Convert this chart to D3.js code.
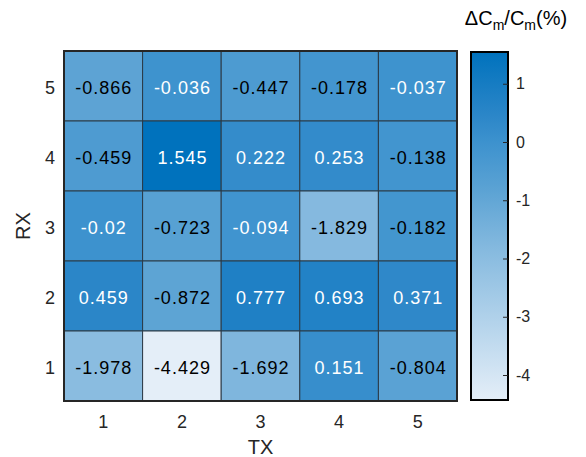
<!DOCTYPE html>
<html>
<head>
<meta charset="utf-8">
<script src="https://cdn.jsdelivr.net/npm/d3@7"></script>
<style>
  body { margin: 0; background: #fff; }
  text { font-family: "Liberation Sans", Arial, sans-serif; }
</style>
</head>
<body>
<div id="chart"></div>
<script>
// data: rows are RX (5 at top .. 1 at bottom), columns are TX 1..5
const txLabels = ['1', '2', '3', '4', '5'];
const rxLabels = ['5', '4', '3', '2', '1'];
const rx5 = [-0.866, -0.036, -0.447, -0.178, -0.037];
const rx4 = [-0.459, 1.545, 0.222, 0.253, -0.138];
const rx3 = [-0.02, -0.723, -0.094, -1.829, -0.182];
const rx2 = [0.459, -0.872, 0.777, 0.693, 0.371];
const rx1 = [-1.978, -4.429, -1.692, 0.151, -0.804];
const cbTicks = [1, 0, -1, -2, -3, -4];

const rows = [rx5, rx4, rx3, rx2, rx1];
const cells = [];
rows.forEach((r, i) => r.forEach((v, j) => cells.push({ rx: rxLabels[i], tx: txLabels[j], v: v })));

const W = 586, H = 457;
const plot = { left: 64, top: 51, right: 457, bottom: 401 };
const cb = { left: 471, right: 508, top: 52, bottom: 400 };

const svg = d3.select('#chart').append('svg')
    .attr('width', W).attr('height', H);

const x = d3.scaleBand().domain(txLabels).range([plot.left, plot.right]);
const y = d3.scaleBand().domain(rxLabels).range([plot.top, plot.bottom]);

const vmin = d3.min(cells, d => d.v), vmax = d3.max(cells, d => d.v);
// blue ramp, light to dark
const stops = ['#e4eef8', '#86badf', '#5ca3d4', '#3d92ce', '#2b86c8', '#0072bd'];
const stopPos = [0, 0.43, 0.6, 0.74, 0.82, 1];
const ramp = d3.scaleLinear().domain(stopPos).range(stops).interpolate(d3.interpolateRgb);
const color = v => ramp((v - vmin) / (vmax - vmin));

// cells
svg.append('g').selectAll('rect')
    .data(cells)
    .join('rect')
    .attr('x', d => x(d.tx))
    .attr('y', d => y(d.rx))
    .attr('width', x.bandwidth())
    .attr('height', y.bandwidth())
    .attr('fill', d => color(d.v))
    .attr('stroke', '#2b3a46')
    .attr('stroke-width', 1);

svg.append('g').selectAll('text')
    .data(cells)
    .join('text')
    .attr('x', d => x(d.tx) + x.bandwidth() / 2 + 0.5)
    .attr('y', d => y(d.rx) + y.bandwidth() / 2 + 8)
    .attr('text-anchor', 'middle')
    .attr('font-size', 18)
    .attr('letter-spacing', 1)
    .attr('fill', d => d.v > -0.12 ? '#fff' : '#000')
    .text(d => d.v);

// outer frame
svg.append('rect')
    .attr('x', plot.left).attr('y', plot.top)
    .attr('width', plot.right - plot.left).attr('height', plot.bottom - plot.top)
    .attr('fill', 'none').attr('stroke', '#262626').attr('stroke-width', 2);

// tick labels
svg.append('g').selectAll('text')
    .data(txLabels)
    .join('text')
    .attr('x', d => x(d) + x.bandwidth() / 2)
    .attr('y', 428)
    .attr('text-anchor', 'middle')
    .attr('font-size', 18)
    .attr('fill', '#262626')
    .text(d => d);

svg.append('g').selectAll('text')
    .data(rxLabels)
    .join('text')
    .attr('x', 55)
    .attr('y', d => y(d) + y.bandwidth() / 2 + 8)
    .attr('text-anchor', 'end')
    .attr('font-size', 18)
    .attr('fill', '#262626')
    .text(d => d);

svg.append('text')
    .attr('x', (plot.left + plot.right) / 2).attr('y', 454)
    .attr('text-anchor', 'middle')
    .attr('font-size', 20)
    .attr('fill', '#262626')
    .text('TX');

svg.append('text')
    .attr('transform', `translate(30, ${(plot.top + plot.bottom) / 2}) rotate(-90)`)
    .attr('text-anchor', 'middle')
    .attr('font-size', 20)
    .attr('fill', '#262626')
    .text('RX');

// colorbar
const defs = svg.append('defs');
const grad = defs.append('linearGradient')
    .attr('id', 'cbgrad')
    .attr('x1', 0).attr('y1', 1).attr('x2', 0).attr('y2', 0);
stopPos.forEach((p, i) => grad.append('stop').attr('offset', p).attr('stop-color', stops[i]));

const cy = d3.scaleLinear().domain([vmin, vmax]).range([cb.bottom, cb.top]);

svg.append('rect')
    .attr('x', cb.left).attr('y', cb.top)
    .attr('width', cb.right - cb.left).attr('height', cb.bottom - cb.top)
    .attr('fill', 'url(#cbgrad)')
    .attr('stroke', '#000').attr('stroke-width', 2);

const cbAxis = d3.axisRight(cy).tickValues(cbTicks).tickSize(-5).tickPadding(8)
    .tickFormat(d => String(d));
const gcb = svg.append('g')
    .attr('transform', `translate(${cb.right}, 0)`)
    .call(cbAxis);
gcb.select('.domain').remove();
gcb.selectAll('.tick line').attr('stroke', '#262626');
gcb.selectAll('.tick text')
    .attr('font-size', 16)
    .attr('fill', '#262626')
    .style('font-family', '"Liberation Sans", Arial, sans-serif');

// colorbar title
const title = svg.append('text')
    .attr('x', 516).attr('y', 25)
    .attr('text-anchor', 'middle')
    .attr('font-size', 20)
    .attr('fill', '#000');
title.append('tspan').text('ΔC');
title.append('tspan').attr('font-size', 14).attr('dy', 5).text('m');
title.append('tspan').attr('dy', -5).text('/C');
title.append('tspan').attr('font-size', 14).attr('dy', 5).text('m');
title.append('tspan').attr('dy', -5).text('(%)');
</script>
</body>
</html>
